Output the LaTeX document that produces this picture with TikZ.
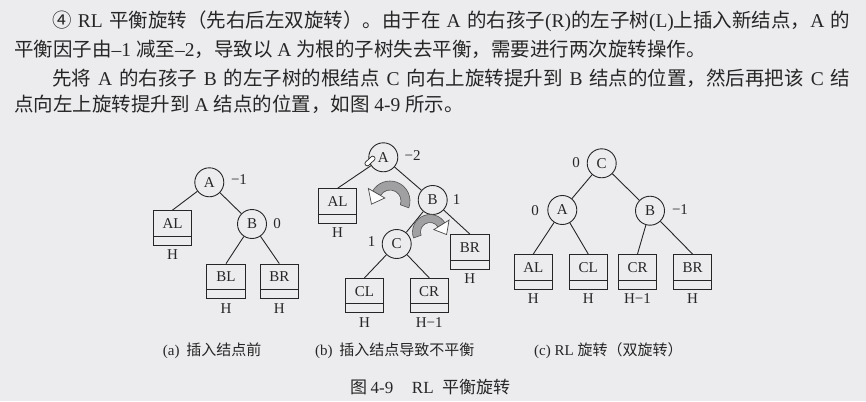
\documentclass[tikz,border=0pt]{standalone}
\usepackage{fontspec}
\setmainfont{Liberation Serif}
\newfontfamily\zh{Noto Sans CJK SC}
\usetikzlibrary{calc}
\definecolor{bg}{RGB}{236,236,239}
\definecolor{ink}{RGB}{38,38,38}
\definecolor{band}{RGB}{160,160,162}
\XeTeXlinebreaklocale "zh"
\XeTeXlinebreakskip=0pt plus 2pt
\begin{document}
\begin{tikzpicture}[x=1pt,y=1pt,
  circ/.style={circle, draw=ink, line width=0.9pt, minimum size=29pt, inner sep=0pt,
    font=\fontsize{15}{15}\selectfont, text=ink},
  sbox/.style={rectangle, draw=ink, line width=0.9pt, minimum width=38.5pt, minimum height=34.5pt,
    inner sep=0pt, text height=1pt, text depth=0pt, font=\fontsize{15}{15}\selectfont, text=ink,
    path picture={\draw[ink, line width=0.9pt] ([yshift=9pt]path picture bounding box.south west) -- ([yshift=9pt]path picture bounding box.south east);}},
  hl/.style={font=\fontsize{15}{15}\selectfont, text=ink, inner sep=0pt, label distance=4pt},
  bf/.style={font=\fontsize{15}{15}\selectfont, text=ink, inner sep=0pt},
  link/.style={draw=ink, line width=0.9pt},
  para/.style={anchor=base west, inner sep=0pt, text=ink, font=\fontsize{19.5}{19.5}\selectfont},
  capt/.style={anchor=base west, inner sep=0pt, text=ink, font=\fontsize{15}{15}\selectfont},
  rotband/.style={fill=band, draw=ink!80, line width=0.6pt},
  rothead/.style={fill=white, draw=ink!85, line width=0.7pt, line join=miter}
]
\fill[bg] (0,0) rectangle (866,-401);
\useasboundingbox (0,0) rectangle (866,-401);

% paragraph text
\node[para] (l1) at (52,-27.5) {\hbox to 798pt{{\zh ④} RL {\zh 平衡旋转（先右后左双旋转）。由于在} A {\zh 的右孩子}(R){\zh 的左子树}(L){\zh 上插入新结点，}A {\zh 的}}};
\node[para] (l2) at (14,-57) {{\zh 平衡因子由}–1 {\zh 减至}–2{\zh ，导致以} A {\zh 为根的子树失去平衡，需要进行两次旋转操作。}};
\node[para] (l3) at (52,-85.5) {\hbox to 798pt{{\zh 先将} A {\zh 的右孩子} B {\zh 的左子树的根结点} C {\zh 向右上旋转提升到} B {\zh 结点的位置，然后再把该} C {\zh 结}}};
\node[para] (l4) at (14,-111) {{\zh 点向左上旋转提升到} A {\zh 结点的位置，如图} 4-9 {\zh 所示。}};

% ---- tree (a)
\node[circ] (Aa) at (209.3,-182.3) {A};
\node[bf] (fAa) at (239,-180) {−1};
\node[sbox, label={[hl,name=hALa]below:H}] (ALa) at (172.5,-227.8) {AL};
\node[circ] (Ba) at (252,-224) {B};
\node[bf] (fBa) at (277,-223.5) {0};
\node[sbox, label={[hl,name=hBLa]below:H}] (BLa) at (226,-281.3) {BL};
\node[sbox, label={[hl,name=hBRa]below:H}] (BRa) at (279.3,-281.3) {BR};
\draw[link] (Aa) -- (ALa.north);
\draw[link] (Aa) -- (Ba);
\draw[link] (Ba) -- (BLa.north);
\draw[link] (Ba) -- (BRa.north);

% ---- tree (b)
\node[circ] (Ab) at (383.3,-157.3) {A};
\node[bf] (fAb) at (412.7,-156) {−2};
\node[sbox, label={[hl,name=hALb]below:H}] (ALb) at (337.5,-206) {AL};
\node[circ] (Bb) at (432.7,-200) {B};
\node[bf] (fBb) at (456.7,-199.3) {1};
\node[circ] (Cb) at (396.7,-244) {C};
\node[bf] (fCb) at (371.7,-241.7) {1};
\node[sbox, label={[hl,name=hBRb]below:H}] (BRb) at (469.8,-251.7) {BR};
\node[sbox, label={[hl,name=hCLb]below:H}] (CLb) at (364.5,-295.5) {CL};
\node[sbox, label={[hl,name=hCRb]below:H−1}] (CRb) at (429.2,-295.5) {CR};
\draw[link] (Ab) -- (ALb.north);
\draw[link] (Ab) -- (Bb);
\draw[link] (Bb) -- (Cb);
\draw[link] (Bb) -- (BRb.north);
\draw[link] (Cb) -- (CLb.north);
\draw[link] (Cb) -- (CRb.north);
\node[draw=ink, fill=white, line width=0.7pt, rounded corners=2pt, minimum width=12pt, minimum height=4.5pt, inner sep=0pt, rotate=43] (mk) at (370,-161) {};

% rotation arrow 1 (counter-clockwise)
\coordinate (c1) at (390,-201);
\path[rotband] ($(c1)+(-20:20)$) arc[start angle=-20, end angle=150, radius=20]
  -- ($(c1)+(150:11)$) arc[start angle=150, end angle=-20, radius=11] -- cycle;
\path[rothead] ($(c1)+(150:25)$) -- ($(c1)+(150:15.5)+(245:12)$) -- ($(c1)+(150:6)$) -- cycle;

% rotation arrow 2 (clockwise)
\coordinate (c2) at (430,-232);
\path[rotband] ($(c2)+(200:17.5)$) arc[start angle=200, end angle=32, radius=17.5]
  -- ($(c2)+(32:9.5)$) arc[start angle=32, end angle=200, radius=9.5] -- cycle;
\path[rothead] ($(c2)+(32:22.5)$) -- ($(c2)+(32:13.5)+(-62:11)$) -- ($(c2)+(32:4.5)$) -- cycle;

% ---- tree (c)
\node[circ] (Cc) at (601.7,-163.3) {C};
\node[bf] (fCc) at (576,-162.7) {0};
\node[circ] (Ac) at (562.3,-210) {A};
\node[bf] (fAc) at (535,-210.7) {0};
\node[circ] (Bc) at (650,-210.7) {B};
\node[bf] (fBc) at (680,-210) {−1};
\node[sbox, label={[hl,name=hALc]below:H}] (ALc) at (533.3,-271.7) {AL};
\node[sbox, label={[hl,name=hCLc]below:H}] (CLc) at (588.2,-271.7) {CL};
\node[sbox, label={[hl,name=hCRc]below:H−1}] (CRc) at (637.5,-271.7) {CR};
\node[sbox, label={[hl,name=hBRc]below:H}] (BRc) at (692.5,-271.7) {BR};
\draw[link] (Cc) -- (Ac);
\draw[link] (Cc) -- (Bc);
\draw[link] (Ac) -- (ALc.north);
\draw[link] (Ac) -- (CLc.north);
\draw[link] (Bc) -- (CRc.north);
\draw[link] (Bc) -- (BRc.north);

% captions
\node[capt] (capa) at (162.7,-355.5) {(a)\hspace{0.45em}{\zh 插入结点前}};
\node[capt] (capb) at (315,-355.5) {(b)\hspace{0.45em}{\zh 插入结点导致不平衡}};
\node[capt] (capc) at (534,-355.5) {(c) RL {\zh 旋转（双旋转）}};
\node[capt, font=\fontsize{17}{17}\selectfont] (fig) at (350,-393) {{\zh 图}\hspace{0.2em}4-9\hspace{1.1em}RL\hspace{0.5em}{\zh 平衡旋转}};
\end{tikzpicture}
\end{document}
